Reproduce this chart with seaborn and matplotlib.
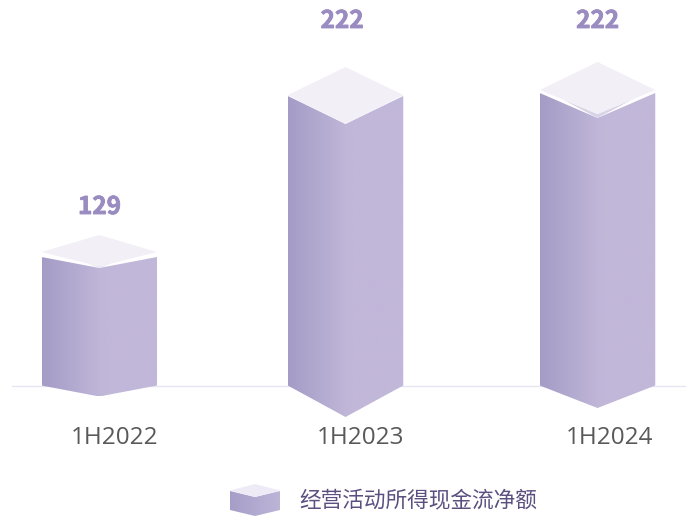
import matplotlib
matplotlib.use("Agg")
import matplotlib.pyplot as plt
import matplotlib.patheffects as pe
from matplotlib.colors import LinearSegmentedColormap
from matplotlib.patches import Polygon
import numpy as np
import pandas as pd
import seaborn as sns

# --- data
categories = ["1H2022", "1H2023", "1H2024"]
value_labels = ["129", "222", "222"]
drawn_heights = [128.5, 289.5, 292.5]   # bar height above the baseline, as drawn
series_name = "经营活动所得现金流净额"

# --- layout (figure pixels, baseline at 0)
W, H, BASE = 686, 516, 385.5
centers = [99.25, 345.5, 597.5]
tick_x = [114.5, 361, 610]
label_x = [99.5, 342, 597.5]
label_y = [178.5, 364.5, 364.5]
BAR_W = 115.5
v_depth = [11, 28, 25]           # depth of front V at the top
bottom_depth = [11, 31.5, 22.5]  # depth of pointed bottom
dia_gap = [5, 1, 3]              # gap between body shoulder and lid corners
dia_up = [17, 28, 28]            # lid rise above its corners
dia_down = [14.5, 29, 24]        # lid drop below its corners
shade_w = [0.2, 0, 0.6]          # half-width of the shade below the lid, share of half bar
shade_c = ["#e6e2ef", "#d8d3e6", "#d8d3e6"]

sns.set_theme(style="white")
plt.rcParams["font.family"] = ["Noto Sans CJK SC", "DejaVu Sans"]

fig = plt.figure(figsize=(W / 100, H / 100), dpi=100)
ax = fig.add_axes([0, 0, 1, 1])

df = pd.DataFrame({"x": centers, "h": drawn_heights})
sns.barplot(data=df, x="x", y="h", native_scale=True, width=BAR_W / (centers[1] - centers[0]),
            color="#c1b7d9", errorbar=None, ax=ax, zorder=3)

grad = LinearSegmentedColormap.from_list(
    "body", [(0, "#a49cc6"), (0.5, "#bfb6d8"), (0.55, "#c1b7d9"), (1, "#c1b7d9")])
swatch_grad = LinearSegmentedColormap.from_list(
    "swatch", [(0, "#a69ec8"), (1, "#bdb5d8")])
ramp = np.linspace(0, 1, 256).reshape(1, -1)


def prism(l, r, base, top, vd, bd, gap, up, down, sw, cmap, lid="#f2eff7", shade="#d8d3e6", z=3):
    c = (l + r) / 2
    body = Polygon([(l, top), (c, top - vd), (r, top), (r, base), (c, base - bd), (l, base)],
                   closed=True, transform=ax.transData, fc="none", ec="none")
    ax.add_patch(body)
    im = ax.imshow(ramp, cmap=cmap, extent=(l, r, base - bd, top), aspect="auto", zorder=z,
                   interpolation="bilinear", vmin=0, vmax=1)
    im.set_clip_path(body)
    ty = top + gap
    if sw > 0:
        w = (r - l) / 2 * sw
        edge = ty - down * (1 - sw)
        ax.add_patch(Polygon([(c - w, edge), (c, ty - down), (c + w, edge), (c, top - vd)],
                             closed=True, fc=shade, ec="none", zorder=z + 1))
    ax.add_patch(Polygon([(l, ty), (c, ty + up), (r, ty), (c, ty - down)],
                         closed=True, fc=lid, ec="none", zorder=z + 2))


for bar, h, vd, bd, gap, up, down, sw, sc in zip(ax.patches[:3], drawn_heights, v_depth, bottom_depth,
                                                 dia_gap, dia_up, dia_down, shade_w, shade_c):
    l, r = bar.get_x(), bar.get_x() + bar.get_width()
    bar.set_visible(False)
    prism(l, r, 0, h, vd, bd, gap, up, down, sw, grad, shade=sc)

for x, y, s in zip(label_x, label_y, value_labels):
    ax.text(x, y, s, ha="center", va="center", fontsize=17.5, fontweight="bold",
            color="#9a8bc1", zorder=6, family=["Noto Sans CJK SC", "DejaVu Sans"],
            path_effects=[pe.withStroke(linewidth=0.6, foreground="#9a8bc1")])

# axis
ax.set_xlim(0, W)
ax.set_ylim(BASE - H, BASE)
for s in ["left", "right", "top"]:
    ax.spines[s].set_visible(False)
ax.patch.set_visible(False)
sp = ax.spines["bottom"]
sp.set_position(("data", 0))
sp.set_bounds(12, W)
sp.set_color("#e8e5f2")
sp.set_linewidth(1.0)
sp.set_zorder(1)
ax.set_yticks([])
ax.set_xticks(tick_x)
ax.set_xticklabels(categories, fontsize=17.5, color="#595959",
                   family=["Open Sans", "DejaVu Sans"])
ax.tick_params(axis="x", length=0, pad=29)
ax.set_xlabel("")
ax.set_ylabel("")

# legend key and text
prism(230, 280, BASE - 510, BASE - 491, 6, 6, 0.5, 6.5, 6.5, 0, swatch_grad, lid="#eeebf6")
ax.text(299.5, BASE - 500, series_name, ha="left", va="center", fontsize=15.6, color="#5b5080",
        family=["Noto Sans CJK SC", "DejaVu Sans"])

fig.savefig("out.png", dpi=100)
